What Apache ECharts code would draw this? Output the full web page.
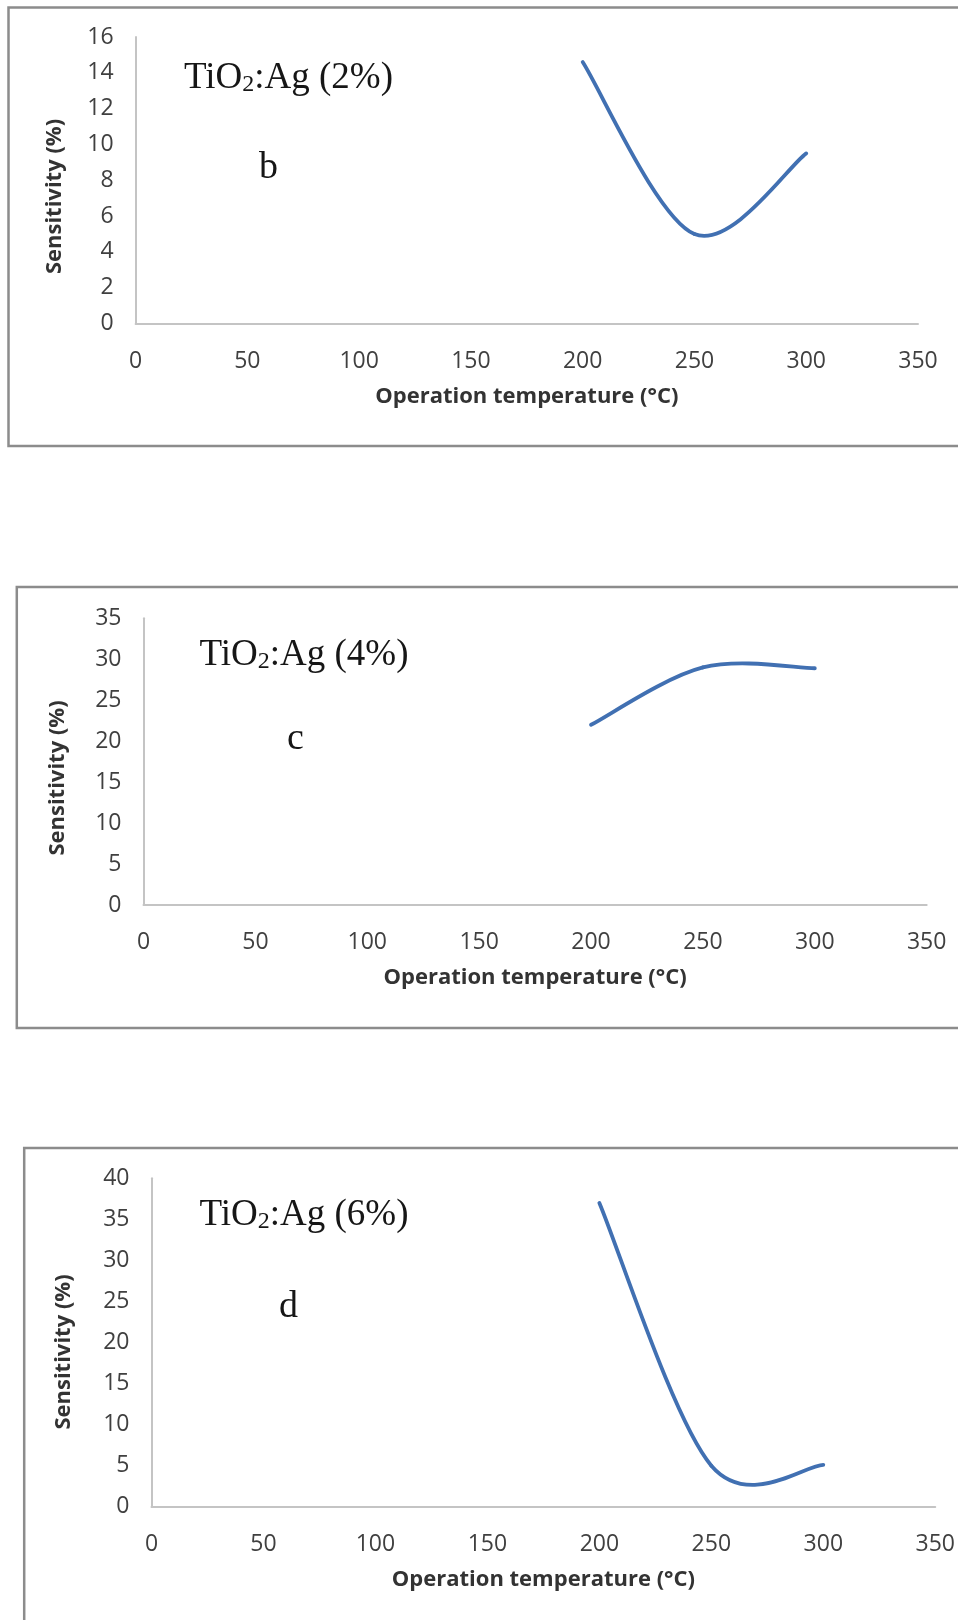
<!DOCTYPE html>
<html>
<head>
<meta charset="utf-8">
<script src="https://cdn.jsdelivr.net/npm/echarts@6/dist/echarts.min.js"></script>
<style>
  html, body { margin: 0; padding: 0; background: #ffffff; }
  #chart { width: 958px; height: 1620px; }
</style>
</head>
<body>
<div id="chart"></div>
<script>
// Operating temperatures (°C) at which sensitivity was measured
const temperatures = [200, 250, 300];

// Sensitivity (%) of Ag-doped TiO2 films
const sensitivityAg2 = [14.6, 5.0, 9.5];
const sensitivityAg4 = [22.0, 29.0, 28.9];
const sensitivityAg6 = [37.0, 5.0, 5.1];

// Axis ticks
const xTickMax = 350;
const xTickStep = 50;
const yTickMax = [16, 35, 40];
const yTickStep = [2, 5, 5];

// Panel annotations
const dopingLevels = ['2%', '4%', '6%'];
const panelLetters = ['b', 'c', 'd'];

const xTitle = 'Operation temperature (\u00B0C)';
const yTitle = 'Sensitivity (%)';

const seriesValues = [sensitivityAg2, sensitivityAg4, sensitivityAg6];

// Layout of the three stacked panels (pixels)
const layout = [
  { grid: { left: 135.6, top: 37.0, width: 782.4, height: 286.5 },
    frame: { x: 8.5, y: 7.5, width: 1000, height: 438.5 },
    yTitle: [54.8, 196.5], label: [184, 78], letter: [259, 168] },
  { grid: { left: 143.5, top: 618.3, width: 783.2, height: 286.7 },
    frame: { x: 16.8, y: 587.0, width: 1000, height: 441.0 },
    yTitle: [57.9, 778], label: [199.5, 655], letter: [287, 739] },
  { grid: { left: 151.5, top: 1178.3, width: 784.5, height: 328.4 },
    frame: { x: 24.2, y: 1148.0, width: 1000, height: 600 },
    yTitle: [64, 1352], label: [199.5, 1215], letter: [279, 1307] }
];

const tickFont = '"Open Sans", "DejaVu Sans", sans-serif';
const serifFont = '"Liberation Serif", "DejaVu Serif", serif';
const lineColor = '#4170b2';
const axisColor = '#c4c4c4';
const tickColor = '#404040';
const titleColor = '#333333';

// Smoothed line through the measured points (cardinal spline, tension 1/6),
// drawn segment by segment in pixel space from the axis scales.
function splineRenderer(values) {
  return function (params, api) {
    const i = params.dataIndex;
    const n = values.length;
    if (i >= n - 1) return null;
    const pt = (k) => {
      const j = Math.max(0, Math.min(n - 1, k));
      return api.coord([temperatures[j], values[j]]);
    };
    const p0 = pt(i - 1), p1 = pt(i), p2 = pt(i + 1), p3 = pt(i + 2);
    return {
      type: 'bezierCurve',
      silent: true,
      shape: {
        x1: p1[0], y1: p1[1],
        x2: p2[0], y2: p2[1],
        cpx1: p1[0] + (p2[0] - p0[0]) / 6,
        cpy1: p1[1] + (p2[1] - p0[1]) / 6,
        cpx2: p2[0] - (p3[0] - p1[0]) / 6,
        cpy2: p2[1] - (p3[1] - p1[1]) / 6
      },
      style: { fill: null, stroke: lineColor, lineWidth: 3.8, lineCap: 'round' }
    };
  };
}

const grids = [], xAxes = [], yAxes = [], series = [], graphics = [];

layout.forEach((p, i) => {
  grids.push(Object.assign({ containLabel: false }, p.grid));

  xAxes.push({
    type: 'value', gridIndex: i,
    min: 0, max: xTickMax, interval: xTickStep,
    axisLine: { show: true, lineStyle: { color: axisColor, width: 2 } },
    axisTick: { show: false },
    splitLine: { show: false },
    axisLabel: { margin: 26, color: tickColor, fontSize: 23, fontFamily: tickFont },
    name: xTitle, nameLocation: 'middle', nameGap: 62,
    nameTextStyle: { color: titleColor, fontSize: 22, fontWeight: 'bold', fontFamily: tickFont }
  });

  yAxes.push({
    type: 'value', gridIndex: i,
    min: 0, max: yTickMax[i], interval: yTickStep[i],
    axisLine: { show: true, onZero: false, lineStyle: { color: axisColor, width: 2 } },
    axisTick: { show: false },
    splitLine: { show: false },
    axisLabel: { margin: 22, color: tickColor, fontSize: 23, fontFamily: tickFont }
  });

  series.push({
    type: 'custom', xAxisIndex: i, yAxisIndex: i,
    silent: true,
    renderItem: splineRenderer(seriesValues[i]),
    encode: { x: 0, y: 1 },
    data: temperatures.map((t, k) => [t, seriesValues[i][k]])
  });

  // panel frame
  graphics.push({
    type: 'rect', silent: true, z: 0,
    shape: p.frame,
    style: { fill: 'none', stroke: '#8c8c8c', lineWidth: 2.5 }
  });

  // rotated y-axis title
  graphics.push({
    type: 'text', silent: true,
    x: p.yTitle[0], y: p.yTitle[1], rotation: Math.PI / 2,
    style: {
      text: yTitle, textAlign: 'center', textVerticalAlign: 'middle',
      fill: titleColor, font: 'bold 22px ' + tickFont
    }
  });

  // sample label with subscript
  graphics.push({
    type: 'text', silent: true,
    x: p.label[0], y: p.label[1],
    style: {
      text: '{a|TiO}{s|2}{a|:Ag (' + dopingLevels[i] + ')}',
      textAlign: 'left', textVerticalAlign: 'middle',
      rich: {
        a: { fontFamily: serifFont, fontSize: 37, lineHeight: 38, fill: '#161616', color: '#161616' },
        s: { fontFamily: serifFont, fontSize: 24, lineHeight: 14, verticalAlign: 'bottom', fill: '#161616', color: '#161616' }
      }
    }
  });

  // panel letter
  graphics.push({
    type: 'text', silent: true,
    x: p.letter[0], y: p.letter[1],
    style: {
      text: panelLetters[i], textAlign: 'left', textVerticalAlign: 'middle',
      fill: '#161616', font: '38px ' + serifFont
    }
  });
});

const chart = echarts.init(document.getElementById('chart'), null, { renderer: 'canvas' });
chart.setOption({
  backgroundColor: '#ffffff',
  animation: false,
  grid: grids,
  xAxis: xAxes,
  yAxis: yAxes,
  series: series,
  graphic: graphics
});
</script>
</body>
</html>
